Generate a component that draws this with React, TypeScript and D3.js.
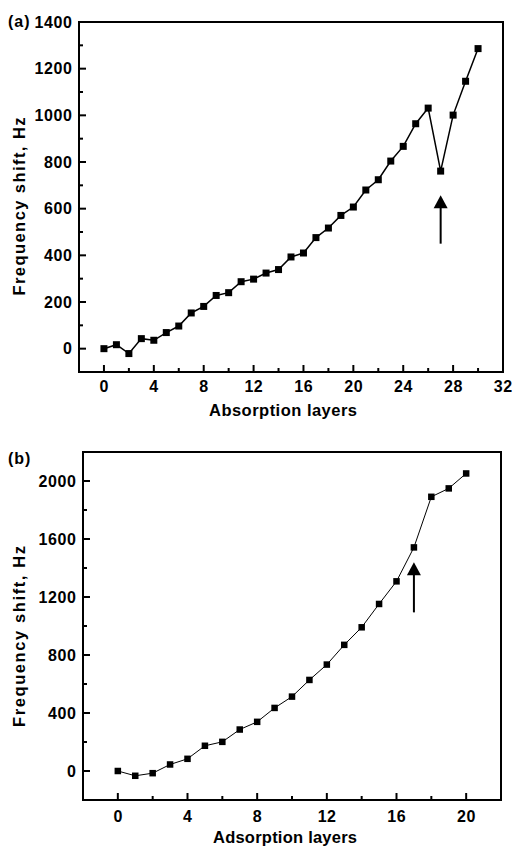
import React from "react";
import * as d3 from "d3";

const layersA = d3.range(0, 31);
const shiftA = [0, 17, -21, 43, 36, 69, 97, 153, 181, 228, 240, 287, 298, 324, 339, 393, 410, 476, 517, 571, 607, 680, 724, 804, 867, 964, 1031, 761, 1001, 1146, 1286];
const xTicksA = [0, 4, 8, 12, 16, 20, 24, 28, 32];
const yTicksA = [0, 200, 400, 600, 800, 1000, 1200, 1400];
const arrowA = { x: 27, from: 450, to: 657 };

const layersB = d3.range(0, 21);
const shiftB = [0, -33, -15, 45, 84, 174, 201, 286, 339, 435, 513, 628, 734, 870, 991, 1152, 1308, 1542, 1891, 1949, 2052];
const xTicksB = [0, 4, 8, 12, 16, 20];
const yTicksB = [0, 400, 800, 1200, 1600, 2000];
const arrowB = { x: 17, from: 1094, to: 1439 };

const FONT = "'Liberation Sans', Arial, sans-serif";

type PanelProps = {
  label: string;
  xs: number[];
  ys: number[];
  xDomain: [number, number];
  yDomain: [number, number];
  xTicks: number[];
  yTicks: number[];
  xMinorStep: number;
  yMinorStep: number;
  box: { left: number; right: number; top: number; bottom: number };
  xTitle: string;
  xTitleX: number;
  xTitleY: number;
  xTitleLen: number;
  yTitleCY: number;
  yTitleLen: number;
  xTickOffset: number;
  arrow: { x: number; from: number; to: number };
  lineWidth: number;
  marker: number;
  labelY: number;
};

function Panel(p: PanelProps) {
  const x = d3.scaleLinear().domain(p.xDomain).range([p.box.left, p.box.right]);
  const y = d3.scaleLinear().domain(p.yDomain).range([p.box.bottom, p.box.top]);
  const line = d3
    .line<number>()
    .x((_, i) => x(p.xs[i]))
    .y((d) => y(d));
  const xMinor = d3
    .range(p.xDomain[0], p.xDomain[1] + 0.001, p.xMinorStep)
    .filter((v) => !p.xTicks.includes(v) && v > p.xDomain[0] && v < p.xDomain[1]);
  const yMinor = d3
    .range(0, p.yDomain[1] + 0.001, p.yMinorStep)
    .filter((v) => !p.yTicks.includes(v) && v > p.yDomain[0] && v < p.yDomain[1]);
  const ax = x(p.arrow.x);
  const tipY = y(p.arrow.to);
  const tailY = y(p.arrow.from);
  const headH = 13;
  const headW = 7;
  const tickStyle = { letterSpacing: "0.6px" };
  return (
    <g fontFamily={FONT} fontWeight="bold" fill="#000">
      <rect
        x={p.box.left}
        y={p.box.top}
        width={p.box.right - p.box.left}
        height={p.box.bottom - p.box.top}
        fill="none"
        stroke="#000"
        strokeWidth={2}
      />
      {p.xTicks.map((t) => (
        <g key={"xt" + t}>
          <line x1={x(t)} x2={x(t)} y1={p.box.bottom} y2={p.box.bottom - 7} stroke="#000" strokeWidth={2} />
          <text x={x(t) + 0.3} y={p.box.bottom + p.xTickOffset} textAnchor="middle" fontSize={16} style={tickStyle}>
            {t}
          </text>
        </g>
      ))}
      {xMinor.map((t) => (
        <line key={"xm" + t} x1={x(t)} x2={x(t)} y1={p.box.bottom} y2={p.box.bottom - 4} stroke="#000" strokeWidth={2} />
      ))}
      {p.yTicks.map((t) => (
        <g key={"yt" + t}>
          <line x1={p.box.left} x2={p.box.left + 7} y1={y(t)} y2={y(t)} stroke="#000" strokeWidth={2} />
          <text x={p.box.left - 6.5} y={y(t) + 5.8} textAnchor="end" fontSize={16} style={tickStyle}>
            {t}
          </text>
        </g>
      ))}
      {yMinor.map((t) => (
        <line key={"ym" + t} x1={p.box.left} x2={p.box.left + 4} y1={y(t)} y2={y(t)} stroke="#000" strokeWidth={2} />
      ))}
      <text
        x={p.xTitleX}
        y={p.xTitleY}
        textAnchor="middle"
        fontSize={16.5}
        textLength={p.xTitleLen}
        lengthAdjust="spacing"
      >
        {p.xTitle}
      </text>
      <text
        transform={`translate(25,${p.yTitleCY}) rotate(-90)`}
        textAnchor="middle"
        fontSize={16.5}
        textLength={p.yTitleLen}
        lengthAdjust="spacing"
      >
        Frequency shift, Hz
      </text>
      <text x={8} y={p.labelY} fontSize={16} style={{ letterSpacing: "1px" }}>
        {p.label}
      </text>
      <path d={line(p.ys) || ""} fill="none" stroke="#000" strokeWidth={p.lineWidth} />
      {p.ys.map((v, i) => (
        <rect
          key={"m" + i}
          x={x(p.xs[i]) - p.marker / 2}
          y={y(v) - p.marker / 2}
          width={p.marker}
          height={p.marker}
          fill="#000"
        />
      ))}
      <line x1={ax} x2={ax} y1={tailY} y2={tipY + headH - 1} stroke="#000" strokeWidth={2} />
      <path d={`M${ax},${tipY} L${ax + headW},${tipY + headH} L${ax - headW},${tipY + headH} Z`} fill="#000" />
    </g>
  );
}

export default function App() {
  return (
    <svg
      width={514}
      height={848}
      style={{ position: "absolute", left: 0, top: 0, background: "#fff" }}
    >
      <rect width={514} height={848} fill="#fff" />
      <Panel
        label="(a)"
        xs={layersA}
        ys={shiftA}
        xDomain={[-2, 32]}
        yDomain={[-100, 1400]}
        xTicks={xTicksA}
        yTicks={yTicksA}
        xMinorStep={2}
        yMinorStep={100}
        box={{ left: 79, right: 503, top: 22, bottom: 372 }}
        xTitle="Absorption layers"
        xTitleX={283}
        xTitleY={416}
        xTitleLen={148}
        yTitleCY={206.5}
        yTitleLen={178}
        xTickOffset={19.5}
        arrow={arrowA}
        lineWidth={1.5}
        marker={7}
        labelY={27}
      />
      <Panel
        label="(b)"
        xs={layersB}
        ys={shiftB}
        xDomain={[-2, 22]}
        yDomain={[-200, 2200]}
        xTicks={xTicksB}
        yTicks={yTicksB}
        xMinorStep={2}
        yMinorStep={200}
        box={{ left: 83, right: 501, top: 452, bottom: 800 }}
        xTitle="Adsorption layers"
        xTitleX={285}
        xTitleY={843}
        xTitleLen={144}
        yTitleCY={636.5}
        yTitleLen={181}
        xTickOffset={21.5}
        arrow={arrowB}
        lineWidth={1}
        marker={6.5}
        labelY={464}
      />
    </svg>
  );
}
